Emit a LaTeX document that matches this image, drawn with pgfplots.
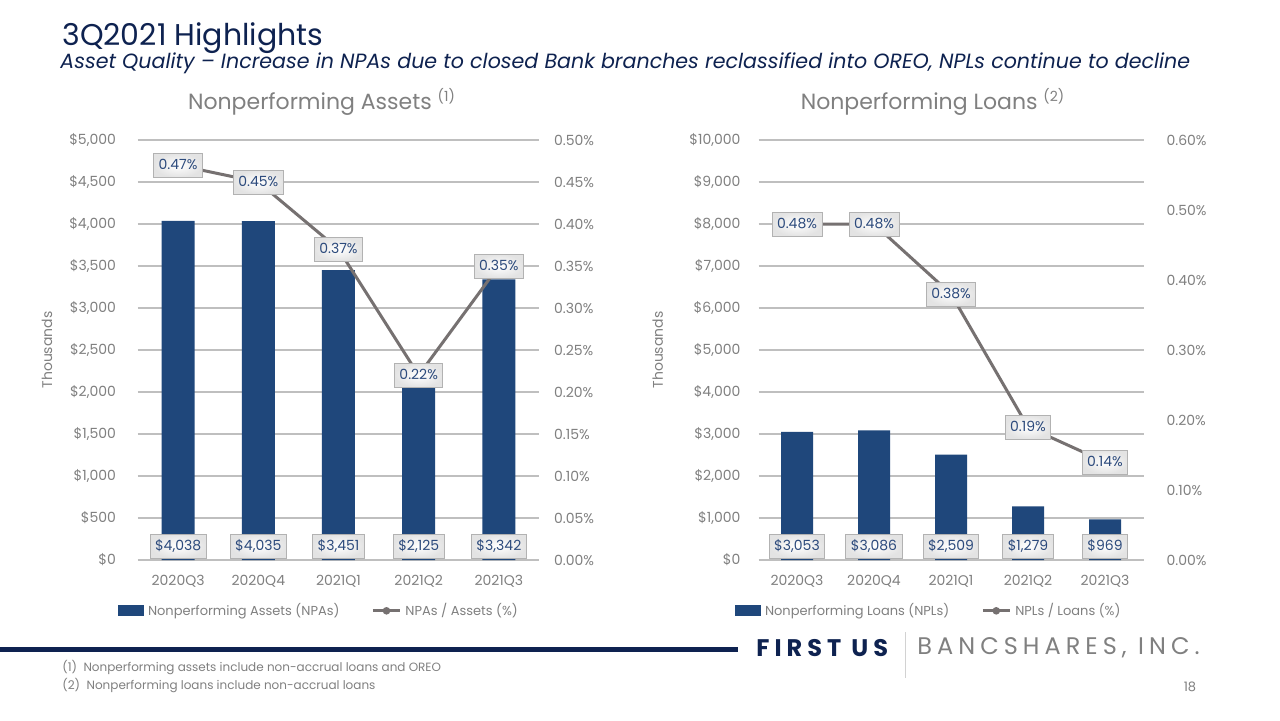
\documentclass[border=0pt]{standalone}
\usepackage{fontspec}
\setmainfont{Poppins}
\usepackage{pgfplots}
\pgfplotsset{compat=1.18}
\definecolor{barblue}{HTML}{1F477B}
\definecolor{navy}{HTML}{0E2250}
\definecolor{tickgray}{HTML}{808080}
\definecolor{lblblue}{HTML}{2C4A7C}
\definecolor{linegray}{HTML}{767171}
\definecolor{gridgray}{HTML}{BFBFBF}

\tikzset{
  lbl/.style={font=\fontsize{7}{8}\selectfont, text=lblblue, draw=gray!60, line width=0.5pt,
    inner color=white, outer color=gray!22, minimum height=12pt, text height=5.2pt, text depth=0.8pt,
    inner xsep=2.5pt, inner ysep=0pt, anchor=center},
}
\pgfplotsset{
  basestyle/.style={
    scale only axis, xmin=-0.5, xmax=4.5, ymin=0,
    axis line style={draw=none}, tick style={draw=none},
    /pgf/number format/assume math mode=true, scaled y ticks=false,
    ticklabel style={font=\fontsize{7}{8}\selectfont, text=tickgray},
    clip=false,
  },
  legstyle/.style={legend style={at={(axis description cs:#1,-0.121)}, anchor=center, draw=none, fill=none,
    font=\fontsize{6.5}{8}\selectfont, text=tickgray, legend columns=-1, inner sep=0pt,
    /tikz/every even column/.append style={column sep=14pt}}, legend cell align=left},
  barleg/.style={legend image code/.code={\fill[barblue] (0pt,-2.5pt) rectangle (12.5pt,2.5pt);}},
  lineleg/.style={legend image code/.code={\draw[mark repeat=2,mark phase=2,##1] plot coordinates {(0pt,0pt) (6.75pt,0pt) (13.5pt,0pt)};}},
}

\begin{document}
\begin{tikzpicture}[x=0.5pt,y=0.5pt]
\path[use as bounding box, fill=white] (0,0) rectangle (1280,720);

% ---------- titles ----------
\node[anchor=base west, text=navy, font=\fontsize{15}{17}\selectfont, inner sep=0pt] at (62,675) {3Q2021 Highlights};
\node[anchor=base west, text=navy, font=\fontsize{10.3}{12}\selectfont\itshape, inner sep=0pt] at (60,652)
  {Asset Quality -- Increase in NPAs due to closed Bank branches reclassified into OREO, NPLs continue to decline};
\node[text=tickgray, font=\fontsize{11}{13}\selectfont] at (322,618) {Nonperforming Assets \textsuperscript{\fontsize{7}{8}\selectfont(1)}};
\node[text=tickgray, font=\fontsize{11}{13}\selectfont] at (933,618) {Nonperforming Loans \textsuperscript{\fontsize{7}{8}\selectfont(2)}};

% ---------- left chart: bars ----------
\begin{axis}[basestyle, at={(69pt,80pt)}, anchor=south west, width=200.5pt, height=210pt,
  ymax=5000, ytick={0,500,...,5000}, ymajorgrids, grid style={gridgray, line width=0.6pt},
  xtick={0,...,4}, xticklabels={2020Q3,2020Q4,2021Q1,2021Q2,2021Q3},
  yticklabel={\$\pgfmathprintnumber[fixed,precision=0,1000 sep={,}]{\tick}},
  yticklabel style={xshift=-7.5pt},
  ylabel={Thousands}, ylabel style={at={(axis description cs:-0.227,0.5)}, anchor=center, font=\fontsize{7}{8}\selectfont, text=tickgray},
  ybar, bar width=16.5pt,
  nodes near coords={\$\pgfmathprintnumber[fixed,precision=0,1000 sep={,}]{\pgfplotspointmeta}},
  visualization depends on={y \as \rawy},
  every node near coord/.append style={lbl, shift={(axis direction cs:0,-\rawy)}, yshift=7pt}]
\addplot[fill=barblue, draw=none] coordinates {(0,4038) (1,4035) (2,3451) (3,2125) (4,3342)};
\end{axis}
% ---------- left chart: ratio ----------
\begin{axis}[basestyle, at={(69pt,80pt)}, anchor=south west, width=200.5pt, height=210pt,
  ymax=0.5, ytick={0,0.05,0.10,0.15,0.20,0.25,0.30,0.35,0.40,0.45,0.50}, ytick pos=right, yticklabel pos=right,
  xtick=\empty, yticklabel style={xshift=4pt},
  yticklabel={\pgfmathprintnumber[fixed,fixed zerofill,precision=2]{\tick}\%},
  legstyle=0.454]
\addlegendimage{barleg}
\addlegendentry{Nonperforming Assets (NPAs)}
\addplot[linegray, line width=1.5pt, mark=*, mark options={fill=linegray, draw=linegray, scale=0.55}, lineleg,
  nodes near coords={\pgfmathprintnumber[fixed,fixed zerofill,precision=2]{\pgfplotspointmeta}\%},
  every node near coord/.append style={lbl}]
  coordinates {(0,0.47) (1,0.45) (2,0.37) (3,0.22) (4,0.35)};
\addlegendentry{NPAs / Assets (\%)}
\end{axis}

% ---------- right chart: bars ----------
\begin{axis}[basestyle, at={(379.25pt,80pt)}, anchor=south west, width=192.5pt, height=210pt,
  ymax=10000, ytick={0,1000,...,10000}, ymajorgrids, grid style={gridgray, line width=0.6pt},
  xtick={0,...,4}, xticklabels={2020Q3,2020Q4,2021Q1,2021Q2,2021Q3},
  yticklabel={\$\pgfmathprintnumber[fixed,precision=0,1000 sep={,}]{\tick}},
  yticklabel style={xshift=-5.5pt},
  ylabel={Thousands}, ylabel style={at={(axis description cs:-0.262,0.5)}, anchor=center, font=\fontsize{7}{8}\selectfont, text=tickgray},
  ybar, bar width=16pt,
  nodes near coords={\$\pgfmathprintnumber[fixed,precision=0,1000 sep={,}]{\pgfplotspointmeta}},
  visualization depends on={y \as \rawy},
  every node near coord/.append style={lbl, shift={(axis direction cs:0,-\rawy)}, yshift=7pt}]
\addplot[fill=barblue, draw=none] coordinates {(0,3053) (1,3086) (2,2509) (3,1279) (4,969)};
\end{axis}
% ---------- right chart: ratio ----------
\begin{axis}[basestyle, at={(379.25pt,80pt)}, anchor=south west, width=192.5pt, height=210pt,
  ymax=0.6, ytick={0,0.1,0.2,0.3,0.4,0.5,0.6}, ytick pos=right, yticklabel pos=right,
  xtick=\empty, yticklabel style={xshift=8pt},
  yticklabel={\pgfmathprintnumber[fixed,fixed zerofill,precision=2]{\tick}\%},
  legstyle=0.445]
\addlegendimage{barleg}
\addlegendentry{Nonperforming Loans (NPLs)}
\addplot[linegray, line width=1.5pt, mark=*, mark options={fill=linegray, draw=linegray, scale=0.55}, lineleg,
  nodes near coords={\pgfmathprintnumber[fixed,fixed zerofill,precision=2]{\pgfplotspointmeta}\%},
  every node near coord/.append style={lbl}]
  coordinates {(0,0.48) (1,0.48) (2,0.38) (3,0.19) (4,0.14)};
\addlegendentry{NPLs / Loans (\%)}
\end{axis}

% ---------- footer ----------
\fill[navy] (0,68) rectangle (738,73);
\node[anchor=west, text=navy, font=\fontsize{12}{14}\selectfont\bfseries\addfontfeatures{LetterSpace=21}, inner sep=0pt] at (756,72) {FIRST US};
\draw[gray!35, line width=0.5pt] (905,88) -- (905,42);
\node[anchor=west, text=tickgray, font=\fontsize{12}{14}\selectfont\addfontfeatures{LetterSpace=21}, inner sep=0pt] at (917,72) {BANCSHARES, INC.};
\node[anchor=west, text=tickgray, font=\fontsize{6}{7}\selectfont, inner sep=0pt] at (62,52) {(1)\ \ Nonperforming assets include non-accrual loans and OREO};
\node[anchor=west, text=tickgray, font=\fontsize{6}{7}\selectfont, inner sep=0pt] at (62,34) {(2)\ \ Nonperforming loans include non-accrual loans};
\node[text=tickgray, font=\fontsize{6.5}{7}\selectfont, inner sep=0pt] at (1190,33) {18};
\end{tikzpicture}
\end{document}
